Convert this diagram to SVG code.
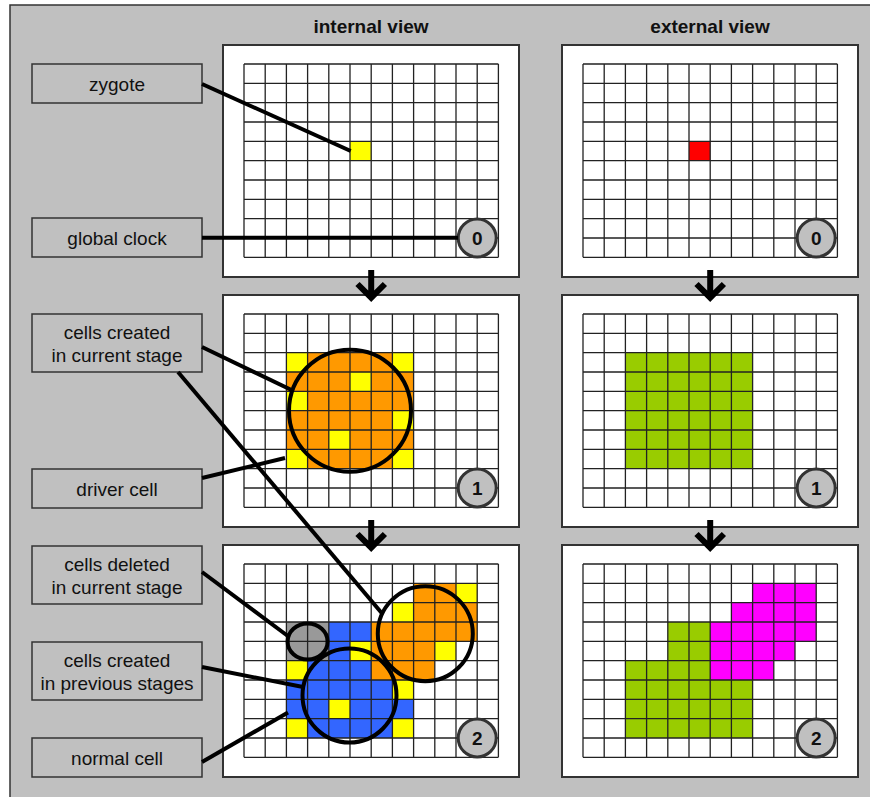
<svg xmlns="http://www.w3.org/2000/svg" xmlns:xlink="http://www.w3.org/1999/xlink" width="870" height="797" viewBox="0 0 870 797">
<style>
.bg{fill:#c0c0c0;stroke:#333;stroke-width:1.5}
.panel{fill:#fff;stroke:#333;stroke-width:2}
.lbl{fill:#c0c0c0;stroke:#333;stroke-width:1.5}
.t{font-family:"Liberation Sans",Arial,sans-serif;font-size:19px;fill:#111;text-anchor:middle}
.title{font-family:"Liberation Sans",Arial,sans-serif;font-size:19px;font-weight:bold;fill:#111;text-anchor:middle}
.num{font-family:"Liberation Sans",Arial,sans-serif;font-size:19px;font-weight:bold;fill:#111;text-anchor:middle}
.clk{fill:#c0c0c0;stroke:#333;stroke-width:3}
.ring{fill:none;stroke:#000;stroke-width:4}
.lead{stroke:#000;stroke-width:4;fill:none}
.arrow{stroke:#000;stroke-width:6;fill:none;stroke-linejoin:miter}
.y{fill:#ffff00}.o{fill:#ff9900}.b{fill:#3366ff}.g{fill:#999999}.gr{fill:#99cc00}.m{fill:#ff00ff}.r{fill:#ff0000}
.gl{stroke:#222;stroke-width:1.3;fill:none}
</style>
<defs>
<path id="gridlines" class="gl" d="M0,0V193.33M21.2,0V193.33M42.4,0V193.33M63.6,0V193.33M84.8,0V193.33M106,0V193.33M127.2,0V193.33M148.4,0V193.33M169.6,0V193.33M190.8,0V193.33M212,0V193.33M233.2,0V193.33M254.4,0V193.33M0,0H254.4M0,19.33H254.4M0,38.67H254.4M0,58H254.4M0,77.33H254.4M0,96.67H254.4M0,116H254.4M0,135.33H254.4M0,154.67H254.4M0,174H254.4M0,193.33H254.4"/>
<rect id="cell" width="21.2" height="19.33"/>
</defs>
<rect class="bg" x="10" y="5" width="880" height="800"/>
<text class="title" x="371" y="33">internal view</text>
<text class="title" x="710" y="33">external view</text>

<g id="panel-int-0">
<rect class="panel" x="223" y="45" width="296" height="232"/>
<g transform="translate(244,64)">
<use xlink:href="#cell" class="y" x="106" y="77.33"/>
<use xlink:href="#gridlines"/>
<circle class="clk" cx="233.2" cy="174" r="19"/>
<text class="num" x="233.2" y="180.5">0</text>
</g>
</g>

<g id="panel-int-1">
<rect class="panel" x="223" y="295" width="296" height="232"/>
<g transform="translate(244,314)">
<rect class="o" x="42.4" y="38.67" width="127.2" height="116"/>
<use xlink:href="#cell" class="y" x="42.4" y="38.67"/>
<use xlink:href="#cell" class="y" x="148.4" y="38.67"/>
<use xlink:href="#cell" class="y" x="106" y="58"/>
<use xlink:href="#cell" class="y" x="42.4" y="77.33"/>
<use xlink:href="#cell" class="y" x="148.4" y="96.67"/>
<use xlink:href="#cell" class="y" x="84.8" y="116"/>
<use xlink:href="#cell" class="y" x="42.4" y="135.33"/>
<use xlink:href="#cell" class="y" x="148.4" y="135.33"/>
<use xlink:href="#gridlines"/>
<circle class="ring" cx="106" cy="96.67" r="61"/>
<circle class="clk" cx="233.2" cy="174" r="19"/>
<text class="num" x="233.2" y="180.5">1</text>
</g>
</g>

<g id="panel-int-2">
<rect class="panel" x="223" y="545" width="296" height="232"/>
<g transform="translate(244,564)">
<rect class="g" x="42.4" y="58" width="42.4" height="38.67"/>
<rect class="b" x="84.8" y="58" width="42.4" height="38.67"/>
<rect class="b" x="63.6" y="96.67" width="63.6" height="19.33"/>
<rect class="b" x="42.4" y="116" width="127.2" height="58"/>
<rect class="o" x="169.6" y="19.33" width="63.6" height="19.33"/>
<rect class="o" x="148.4" y="38.67" width="84.8" height="19.33"/>
<rect class="o" x="127.2" y="58" width="106" height="19.33"/>
<rect class="o" x="127.2" y="77.33" width="84.8" height="19.33"/>
<rect class="o" x="127.2" y="96.67" width="63.6" height="19.33"/>
<use xlink:href="#cell" class="y" x="212" y="19.33"/>
<use xlink:href="#cell" class="y" x="148.4" y="38.67"/>
<use xlink:href="#cell" class="y" x="190.8" y="77.33"/>
<use xlink:href="#cell" class="y" x="106" y="77.33"/>
<use xlink:href="#cell" class="y" x="42.4" y="96.67"/>
<use xlink:href="#cell" class="y" x="148.4" y="116"/>
<use xlink:href="#cell" class="y" x="84.8" y="135.33"/>
<use xlink:href="#cell" class="y" x="42.4" y="154.67"/>
<use xlink:href="#cell" class="y" x="148.4" y="154.67"/>
<use xlink:href="#gridlines"/>
<ellipse class="ring" cx="63.6" cy="77.5" rx="20" ry="18"/>
<circle class="ring" cx="181.3" cy="69.7" r="47.5"/>
<circle class="ring" cx="105.5" cy="131.5" r="47"/>
<circle class="clk" cx="233.2" cy="174" r="19"/>
<text class="num" x="233.2" y="180.5">2</text>
</g>
</g>

<g id="panel-ext-0">
<rect class="panel" x="562" y="45" width="296" height="232"/>
<g transform="translate(583,64)">
<use xlink:href="#cell" class="r" x="106" y="77.33"/>
<use xlink:href="#gridlines"/>
<circle class="clk" cx="233.2" cy="174" r="19"/>
<text class="num" x="233.2" y="180.5">0</text>
</g>
</g>

<g id="panel-ext-1">
<rect class="panel" x="562" y="295" width="296" height="232"/>
<g transform="translate(583,314)">
<rect class="gr" x="42.4" y="38.67" width="127.2" height="116"/>
<use xlink:href="#gridlines"/>
<circle class="clk" cx="233.2" cy="174" r="19"/>
<text class="num" x="233.2" y="180.5">1</text>
</g>
</g>

<g id="panel-ext-2">
<rect class="panel" x="562" y="545" width="296" height="232"/>
<g transform="translate(583,564)">
<rect class="m" x="169.6" y="19.33" width="63.6" height="19.33"/>
<rect class="m" x="148.4" y="38.67" width="84.8" height="19.33"/>
<rect class="m" x="127.2" y="58" width="106" height="19.33"/>
<rect class="m" x="127.2" y="77.33" width="84.8" height="19.33"/>
<rect class="m" x="127.2" y="96.67" width="63.6" height="19.33"/>
<rect class="gr" x="84.8" y="58" width="42.4" height="38.67"/>
<rect class="gr" x="42.4" y="96.67" width="84.8" height="19.33"/>
<rect class="gr" x="42.4" y="116" width="127.2" height="58"/>
<use xlink:href="#gridlines"/>
<circle class="clk" cx="233.2" cy="174" r="19"/>
<text class="num" x="233.2" y="180.5">2</text>
</g>
</g>

<g id="label-zygote">
<rect class="lbl" x="32" y="64" width="170" height="39"/>
<text class="t" x="117" y="90.5">zygote</text>
</g>
<g id="label-clock">
<rect class="lbl" x="32" y="218" width="170" height="39"/>
<text class="t" x="117" y="244.5">global clock</text>
</g>
<g id="label-created-current">
<rect class="lbl" x="32" y="314" width="170" height="58"/>
<text class="t" x="117" y="339">cells created</text>
<text class="t" x="117" y="362">in current stage</text>
</g>
<g id="label-driver">
<rect class="lbl" x="32" y="469" width="170" height="39"/>
<text class="t" x="117" y="495.5">driver cell</text>
</g>
<g id="label-deleted">
<rect class="lbl" x="32" y="546" width="170" height="58"/>
<text class="t" x="117" y="571">cells deleted</text>
<text class="t" x="117" y="594">in current stage</text>
</g>
<g id="label-previous">
<rect class="lbl" x="32" y="642" width="170" height="58"/>
<text class="t" x="117" y="667">cells created</text>
<text class="t" x="117" y="690">in previous stages</text>
</g>
<g id="label-normal">
<rect class="lbl" x="32" y="738" width="170" height="39"/>
<text class="t" x="117" y="765">normal cell</text>
</g>

<g id="connectors">
<path class="lead" d="M202,84L350.7,151"/>
<path class="lead" d="M202,237.7H458"/>
<path class="lead" d="M202,347L291.5,390"/>
<path class="lead" d="M178,372L382.5,614"/>
<path class="lead" d="M202,478L285,458"/>
<path class="lead" d="M202,572L288.5,636.5"/>
<path class="lead" d="M202,667L303,687"/>
<path class="lead" d="M202,762L288,712.5"/>
<path class="arrow" d="M371.2,270V297M357.5,284L371.2,297.7L384.9,284"/>
<path class="arrow" d="M371.2,520V547M357.5,534L371.2,547.7L384.9,534"/>
<path class="arrow" d="M710.2,270V297M696.5,284L710.2,297.7L723.9,284"/>
<path class="arrow" d="M710.2,520V547M696.5,534L710.2,547.7L723.9,534"/>
</g>
</svg>
